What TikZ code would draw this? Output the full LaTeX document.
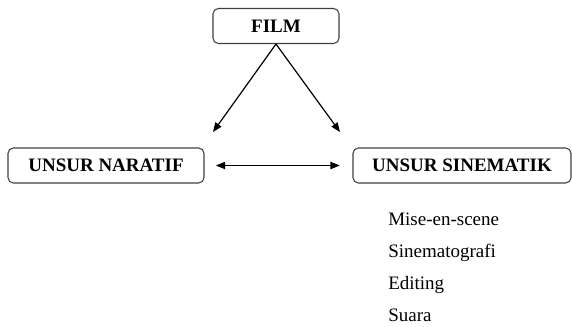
\documentclass[tikz,border=0pt]{standalone}
\usepackage{fontspec}
\setmainfont{Liberation Serif}
\usepackage{tikz}
\usetikzlibrary{arrows.meta}
\definecolor{boxgray}{HTML}{404040}

\begin{document}
\begin{tikzpicture}[x=0.75pt,y=-0.75pt,
    box/.style={draw=boxgray, line width=0.8pt, rounded corners=4pt,
                minimum height=26.25pt, inner sep=0pt,
                font=\fontsize{14.25}{17}\selectfont\bfseries},
    item/.style={anchor=base west, inner sep=0pt,
                 font=\fontsize{14.25}{17}\selectfont},
    link/.style={line width=0.9pt, -{Triangle[length=7pt,width=5.5pt]}}]

  % ---- the three boxes ----
  \node[box, minimum width=94.5pt]  (film)     at (276,26)    {FILM};
  \node[box, minimum width=147pt]   (naratif)  at (106,165.5) {UNSUR NARATIF};
  \node[box, minimum width=163.5pt] (sinema)   at (462,165.5) {UNSUR SINEMATIK};

  % ---- where the arrows from the top box stop ----
  \coordinate (naratifin) at (213,132);
  \coordinate (sinemain)  at (340,132);

  \draw[link] (film.south) -- (naratifin);
  \draw[link] (film.south) -- (sinemain);
  \draw[link, {Triangle[length=7pt,width=5.5pt]}-{Triangle[length=7pt,width=5.5pt]},
        shorten <=8.5pt, shorten >=9.5pt] (naratif.east) -- (sinema.west);

  % ---- list under the cinematic box ----
  \node[item] (mise)    at (388,225) {Mise-en-scene};
  \node[item] (sinemat) at (388,257) {Sinematografi};
  \node[item] (editing) at (388,289) {Editing};
  \node[item] (suara)   at (388,321) {Suara};

  \path (0,0) rectangle (572,326);
\end{tikzpicture}
\end{document}
